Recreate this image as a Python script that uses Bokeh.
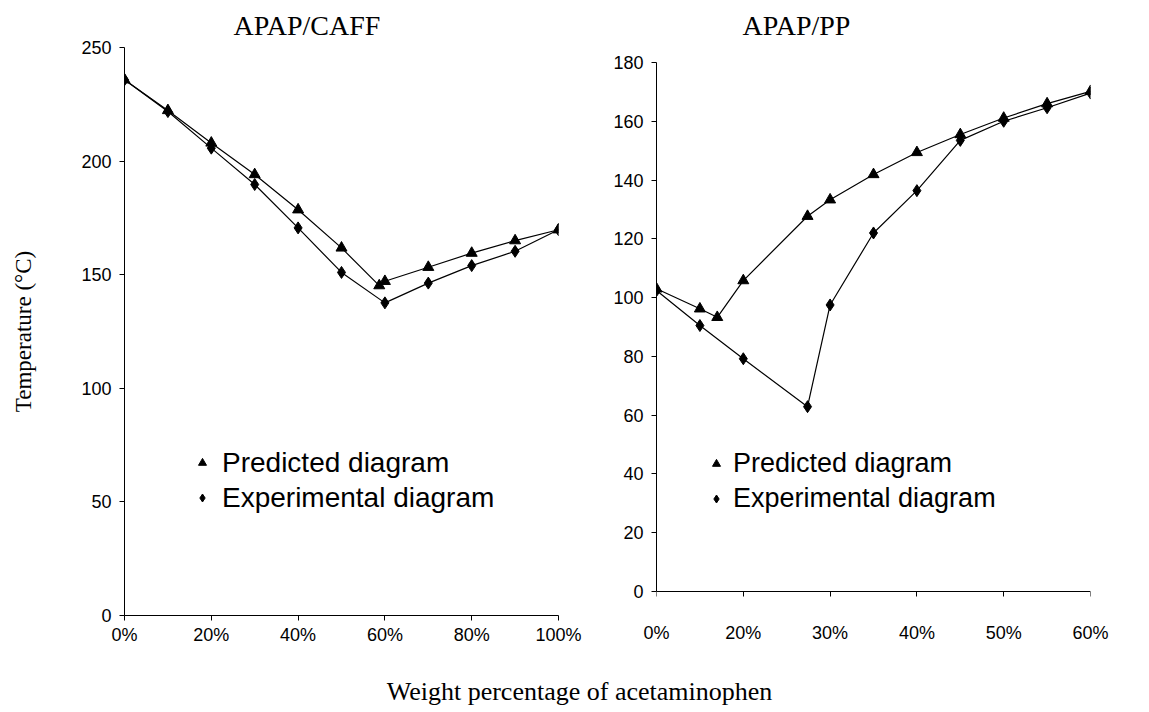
from bokeh.plotting import figure
from bokeh.models import Range1d, FixedTicker, Legend, LegendItem, Div, LinearAxis
from bokeh.layouts import row, column
from bokeh.embed import file_html
from bokeh.resources import INLINE

# ---------------- data ----------------
# APAP/CAFF (weight % of acetaminophen)
caff_pred_x = [0, 10, 20, 30, 40, 50, 58.7, 60, 70, 80, 90, 100]
caff_pred_y = [235.8, 222.3, 208.0, 194.1, 178.6, 161.8, 145.2, 147.1, 153.3, 159.5, 165.0, 169.8]
caff_exp_x = [0, 10, 20, 30, 40, 50, 60, 70, 80, 90, 100]
caff_exp_y = [235.8, 221.8, 205.7, 189.7, 170.6, 151.0, 137.6, 146.3, 154.0, 160.3, 169.8]
caff_ticks = [0, 20, 40, 60, 80, 100]
caff_yticks = [0, 50, 100, 150, 200, 250]

# APAP/PP (position along the category-style axis)
pp_tick_pos = [0, 1, 2, 3, 4, 5]
pp_tick_labels = ["0%", "20%", "30%", "40%", "50%", "60%"]
pp_pred_x = [0, 0.5, 0.7, 1, 1.74, 2, 2.5, 3, 3.5, 4, 4.5, 5]
pp_pred_y = [103.0, 96.2, 93.3, 105.8, 127.7, 133.3, 141.9, 149.4, 155.5, 161.1, 166.0, 170.2]
pp_exp_x = [0, 0.5, 1, 1.74, 2, 2.5, 3, 3.5, 4, 4.5, 5]
pp_exp_y = [102.4, 90.5, 79.2, 62.9, 97.5, 122.0, 136.4, 153.5, 160.0, 164.6, 169.6]
pp_yticks = [0, 20, 40, 60, 80, 100, 120, 140, 160, 180]

SANS = "Liberation Sans"
SERIF = "Liberation Serif"


def style_axis(ax):
    ax.axis_line_color = "black"
    ax.major_tick_line_color = "black"
    ax.major_tick_in = 0
    ax.major_tick_out = 5
    ax.minor_tick_line_color = None
    ax.major_label_text_font = SANS
    ax.major_label_text_font_size = "18px"
    ax.major_label_text_color = "black"


def style_axes(p):
    p.xgrid.visible = False
    p.ygrid.visible = False
    p.outline_line_color = None
    style_axis(p.xaxis[0])
    style_axis(p.yaxis[0])
    p.yaxis[0].major_label_standoff = 8
    p.xaxis[0].major_label_standoff = 4


def style_title(p, text, offset):
    p.title.text = text
    p.title.align = "left"
    p.title.offset = offset
    p.title.text_font = SERIF
    p.title.text_font_size = "28px"
    p.title.text_font_style = "normal"
    p.title.text_color = "black"
    p.title.standoff = 14


def add_series(p, px, py, ex, ey, legend_loc, font_size, standoff):
    p.line(px, py, line_color="black", line_width=1.2)
    p.line(ex, ey, line_color="black", line_width=1.2)
    r_tri = p.scatter(px, py, marker="triangle", size=11, fill_color="black", line_color="black")
    r_dia = p.scatter(ex, ey, marker="diamond", size=12, fill_color="black", line_color="black")
    leg = Legend(
        items=[LegendItem(label="Predicted diagram", renderers=[r_tri]),
               LegendItem(label="Experimental diagram", renderers=[r_dia])],
        location=legend_loc,
        border_line_alpha=0, background_fill_alpha=0,
        padding=0, spacing=0, margin=0,
        glyph_width=20, glyph_height=35, label_height=35,
        label_standoff=standoff,
        label_text_font=SANS, label_text_font_size=font_size,
        label_text_color="black",
    )
    p.add_layout(leg)


# ---------------- left: APAP/CAFF ----------------
p1 = figure(width=600, height=670, output_backend="svg", toolbar_location=None,
            x_range=Range1d(0, 100), y_range=Range1d(0, 250),
            min_border_left=124, min_border_right=42, min_border_top=47, min_border_bottom=55,
            frame_width=434, frame_height=568)
style_title(p1, "APAP/CAFF", 109)
style_axes(p1)
p1.xaxis[0].ticker = FixedTicker(ticks=caff_ticks)
p1.xaxis[0].major_label_overrides = {t: f"{t}%" for t in caff_ticks}
p1.yaxis[0].ticker = FixedTicker(ticks=caff_yticks)
p1.yaxis[0].axis_label = "Temperature (°C)"
p1.yaxis[0].axis_label_text_font = SERIF
p1.yaxis[0].axis_label_text_font_size = "23px"
p1.yaxis[0].axis_label_text_font_style = "normal"
p1.yaxis[0].axis_label_text_color = "black"
p1.yaxis[0].axis_label_standoff = 42
add_series(p1, caff_pred_x, caff_pred_y, caff_exp_x, caff_exp_y, (68, 100), "28px", 10)

# ---------------- right: APAP/PP ----------------
# frame shares the left plot's vertical extent; the axes are bounded to 0..180
p2 = figure(width=549, height=670, output_backend="svg", toolbar_location=None,
            x_range=Range1d(0, 5), y_range=Range1d(-8.166, 185.104),
            min_border_left=56, min_border_right=59, min_border_top=47, min_border_bottom=55,
            frame_width=434, frame_height=568)
style_title(p2, "APAP/PP", 86)
style_axes(p2)
# bottom axis: labels only (sit below the frame, like the reference)
p2.xaxis[0].ticker = FixedTicker(ticks=pp_tick_pos)
p2.xaxis[0].major_label_overrides = dict(zip(pp_tick_pos, pp_tick_labels))
p2.xaxis[0].axis_line_color = None
p2.xaxis[0].major_tick_line_color = None
p2.xaxis[0].major_tick_out = 0
p2.xaxis[0].major_label_standoff = 7
# axis line and ticks at y = 0
zero_axis = LinearAxis(ticker=FixedTicker(ticks=pp_tick_pos), fixed_location=0)
style_axis(zero_axis)
zero_axis.major_label_text_font_size = "0px"
zero_axis.major_label_text_alpha = 0
zero_axis.major_label_standoff = 0
p2.add_layout(zero_axis, "below")
p2.yaxis[0].ticker = FixedTicker(ticks=pp_yticks)
p2.yaxis[0].bounds = (0, 180)
add_series(p2, pp_pred_x, pp_pred_y, pp_exp_x, pp_exp_y, (50, 99), "27px", 7)

xlabel = Div(text="Weight percentage of acetaminophen", width=1149, height=42,
             styles={"text-align": "center", "font-family": SERIF, "font-size": "26px",
                     "color": "black", "padding-top": "2px", "box-sizing": "border-box",
                     "line-height": "30px"})

layout = column(row(p1, p2, spacing=0), xlabel, spacing=0)
open("out.html", "w").write(file_html(layout, INLINE))
